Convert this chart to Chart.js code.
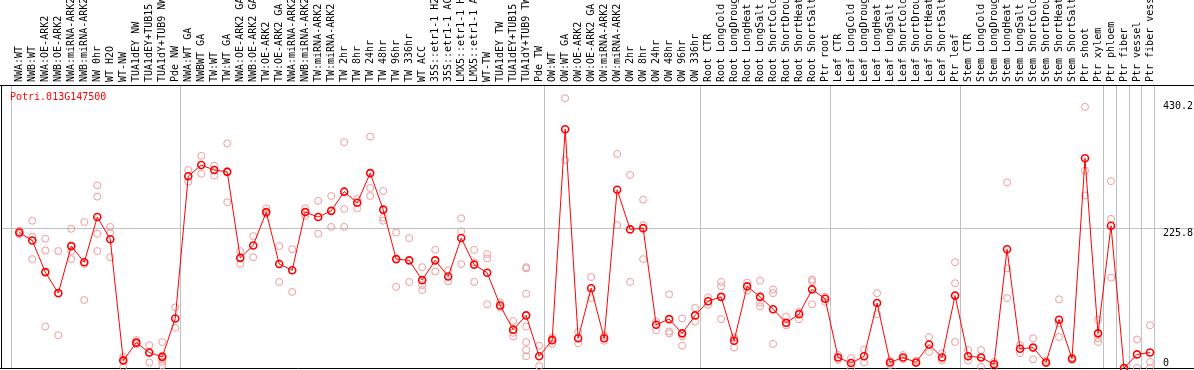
<!DOCTYPE html>
<html>
<head>
<meta charset="utf-8">
<title>Potri.013G147500</title>
<script src="https://cdn.jsdelivr.net/npm/chart.js@4.4.1/dist/chart.umd.min.js"></script>
<style>
  body { margin: 0; background: #fff; }
  canvas { display: block; }
</style>
</head>
<body>
<canvas id="expChart" width="1194" height="370"></canvas>
<script>

const geneName = 'Potri.013G147500';

const sampleLabels = [
  'NWA:WT','NWB:WT','NWA:OE-ARK2','NWB:OE-ARK2','NWA:miRNA-ARK2','NWB:miRNA-ARK2','NW 0hr','WT H2O','WT-NW',
  'TUA1dEY NW','TUA1dEY+TUB15 NW','TUA1dY+TUB9 NW','Pde NW',
  'NWA:WT GA','NWBWT GA','TW:WT','TW:WT GA','NWA:OE-ARK2 GA','NWB:OE-ARK2 GA','TW:OE-ARK2','TW:OE-ARK2 GA',
  'NWA:miRNA-ARK2 GA','NWB:miRNA-ARK2 GA','TW:miRNA-ARK2','TW:miRNA-ARK2 GA',
  'TW 2hr','TW 8hr','TW 24hr','TW 48hr','TW 96hr','TW 336hr','WT ACC',
  '35S::etr1-1 H2O','35S::etr1-1 ACC','LMX5::etr1-1 H2O','LMX5::etr1-1 ACC',
  'WT-TW','TUA1dEY TW','TUA1dEY+TUB15 TW','TUA1dY+TUB9 TW','Pde TW',
  'OW:WT','OW:WT GA','OW:OE-ARK2','OW:OE-ARK2 GA','OW:miRNA-ARK2','OW:miRNA-ARK2 GA',
  'OW 2hr','OW 8hr','OW 24hr','OW 48hr','OW 96hr','OW 336hr',
  'Root CTR','Root LongCold','Root LongDrought','Root LongHeat','Root LongSalt',
  'Root ShortCold','Root ShortDrought','Root ShortHeat','Root ShortSalt','Ptr root',
  'Leaf CTR','Leaf LongCold','Leaf LongDrought','Leaf LongHeat','Leaf LongSalt',
  'Leaf ShortCold','Leaf ShortDrought','Leaf ShortHeat','Leaf ShortSalt','Ptr leaf',
  'Stem CTR','Stem LongCold','Stem LongDrought','Stem LongHeat','Stem LongSalt',
  'Stem ShortCold','Stem ShortDrought','Stem ShortHeat','Stem ShortSalt','Ptr shoot','Ptr xylem',
  'Ptr phloem','Ptr fiber','Ptr vessel','Ptr fiber vessel'
];

// index of first sample in each experiment block (last one = end)
const groupStarts = [0, 13, 41, 53, 63, 73, 84, 85, 86, 87, 88];

const meanValues = [
  219, 206, 155, 121, 197, 171, 244, 208, 12, 41, 25, 18, 80,
  310, 328, 320, 317, 178, 198, 252, 168, 158, 252, 244, 254, 285, 267, 315, 256, 176, 174, 142,
  174, 148, 210, 167, 154, 101, 62, 85, 19,
  45, 386, 48, 129, 48, 288, 224, 226, 70, 79, 56, 85,
  108, 115, 44, 132, 115, 95, 73, 87, 127, 112,
  17, 8, 19, 105, 9, 17, 9, 38, 17, 117,
  19, 17, 6, 192, 31, 33, 9, 78, 15, 339, 56,
  230, 0, 22, 25
];

const replicateValues = [
  [222, 216, 219], [238, 212, 176], [209, 190, 67], [189, 53], [225, 189, 176], [236, 168, 110],
  [295, 277, 217, 189], [228, 218, 179], [18, 2, 14], [45, 40, 38], [37, 24, 9], [42, 20, 14, 10, 4], [98, 65],
  [320, 301], [343, 314], [327, 311], [363, 268, 318], [189, 168], [213, 179], [258, 250, 249], [197, 139],
  [192, 123], [258, 246], [270, 217], [278, 228], [365, 257, 228], [273, 258], [374, 291, 278], [286, 243, 238],
  [219, 131], [210, 139], [163, 134, 126], [191, 156], [158, 140], [242, 221, 168], [191, 171, 139],
  [184, 177, 103], [106, 98], [76, 57, 51], [163, 161, 120, 67, 42, 29, 19], [36, 3],
  [49, 48, 39], [436, 336], [58, 40], [147, 113], [52, 44], [346, 231], [312, 139], [272, 231, 176],
  [75, 61], [119, 59, 56], [80, 51, 36], [97, 75],
  [114, 102], [139, 132, 79], [48, 33, 50], [138, 125], [141, 106, 100], [127, 121, 39], [83, 69], [91, 79],
  [143, 140, 103], [115, 107],
  [21, 13], [16, 0], [30, 9], [121, 87], [12, 5], [21, 14], [12, 8], [50, 26], [24, 12], [171, 137, 42],
  [29, 12], [29, 2, 18], [10, 2], [300, 161, 113], [37, 24], [48, 14], [12, 8], [111, 72, 50], [17, 13],
  [422, 319, 279], [78, 48, 42],
  [302, 241, 146], [0, 0, 0], [46, 0], [69, 10, 0]
];

const yTickValues = [0, 225.8, 430.2];
const yMax = 457.4;

const xMin = -1.408;
const xMax = 87.385;
const monoFont = { family: 'DejaVu Sans Mono', size: 10, lineHeight: 1 };

const meanPoints = meanValues.map((v, i) => ({ x: i, y: v }));
const repPoints = [];
replicateValues.forEach((reps, i) => {
  reps.forEach(v => repPoints.push({ x: i, y: v }));
});

// black frame + gene name
const framePlugin = {
  id: 'frame',
  beforeDatasetsDraw(chart) {
    const ctx = chart.ctx;
    const a = chart.chartArea;
    ctx.save();
    ctx.strokeStyle = '#000';
    ctx.lineWidth = 1;
    ctx.beginPath();
    ctx.moveTo(0, a.top + 0.5); ctx.lineTo(chart.width, a.top + 0.5);
    ctx.moveTo(0, a.bottom + 0.5); ctx.lineTo(chart.width, a.bottom + 0.5);
    ctx.moveTo(1.5, a.top); ctx.lineTo(1.5, a.bottom);
    ctx.stroke();
    ctx.fillStyle = '#ff0000';
    ctx.font = '10px "DejaVu Sans Mono"';
    ctx.textBaseline = 'middle';
    ctx.fillText(geneName, 10, a.top + 12);
    ctx.restore();
  }
};

const ctx = document.getElementById('expChart').getContext('2d');

const expChart = new Chart(ctx, {
  type: 'line',
  data: {
    datasets: [
      {
        label: 'mean',
        data: meanPoints,
        borderColor: '#ff0000',
        borderWidth: 1,
        pointRadius: 3.5,
        pointBorderWidth: 1.6,
        pointBorderColor: '#ff0000',
        pointBackgroundColor: 'rgba(255,255,255,0)',
        clip: false,
        order: 0
      },
      {
        label: 'replicates',
        data: repPoints,
        showLine: false,
        pointRadius: 3.5,
        pointBorderWidth: 1,
        pointBorderColor: '#f09a9a',
        pointBackgroundColor: 'rgba(255,255,255,0)',
        clip: false,
        order: 1
      }
    ]
  },
  options: {
    responsive: false,
    animation: false,
    devicePixelRatio: 1,
    layout: { autoPadding: false, padding: { left: 1, right: 0, top: 0, bottom: 2 } },
    plugins: {
      legend: { display: false },
      tooltip: { enabled: false }
    },
    scales: {
      x: {
        type: 'linear',
        position: 'top',
        min: xMin,
        max: xMax,
        afterBuildTicks: scale => { scale.ticks = sampleLabels.map((_, i) => ({ value: i })); },
        afterFit: scale => { scale.height = 85; },
        ticks: {
          autoSkip: false,
          minRotation: 90,
          maxRotation: 90,
          padding: 3,
          labelOffset: 10,
          color: '#000',
          font: monoFont,
          callback: v => sampleLabels[v]
        },
        grid: { display: false, drawTicks: false },
        border: { display: false }
      },
      x2: {
        type: 'linear',
        position: 'top',
        min: xMin,
        max: xMax,
        afterBuildTicks: scale => { scale.ticks = groupStarts.map(k => ({ value: k - 1 + 5 / 13 })); },
        afterFit: scale => { scale.height = 0; },
        ticks: { display: false },
        grid: { color: '#c0c0c0', tickLength: 85, drawTicks: true },
        border: { display: false }
      },
      y: {
        position: 'right',
        min: 0,
        max: yMax,
        afterBuildTicks: scale => { scale.ticks = yTickValues.map(v => ({ value: v })); },
        afterFit: scale => { scale.width = 39; },
        ticks: {
          padding: -31,
          color: '#000',
          font: monoFont,
          callback: v => (v === 0 ? ['0', ''] : ['', String(v)])
        },
        grid: {
          color: c => (c.tick && c.tick.value === 225.8 ? '#c0c0c0' : 'rgba(0,0,0,0)'),
          tickLength: 39,
          drawTicks: true
        },
        border: { display: false }
      }
    }
  },
  plugins: [framePlugin]
});

console.log('chart drawn', expChart.chartArea);
</script>
</body>
</html>
